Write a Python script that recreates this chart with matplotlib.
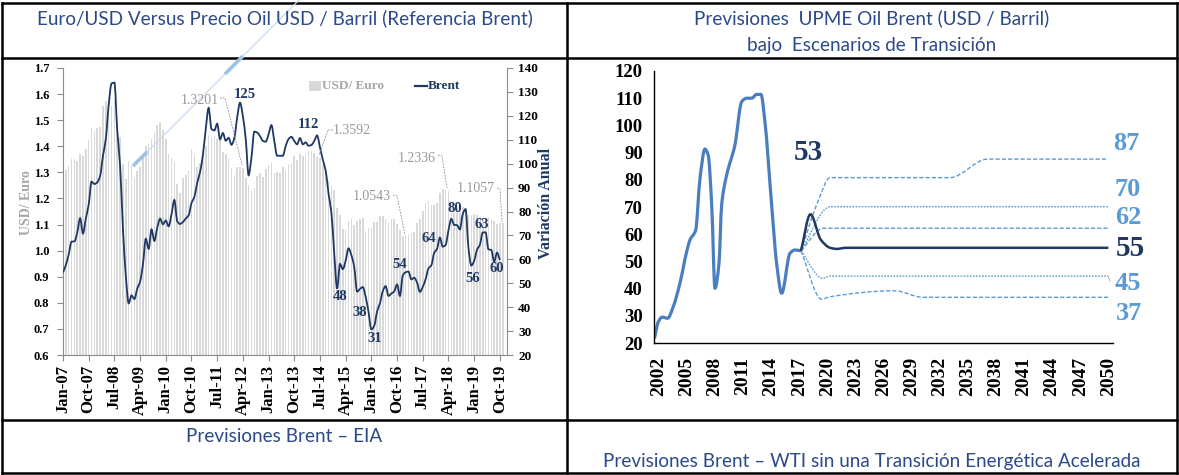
import matplotlib
matplotlib.use('Agg')
import matplotlib.pyplot as plt
from matplotlib.patches import Rectangle, PathPatch
from matplotlib.path import Path
import numpy as np

W, H = 1179, 475
NAVY = '#1f3864'
LBLUE = '#5b9bd5'
HIST = '#4a7ebf'
TITLE = '#2c4a87'
GRAYTXT = '#a6a6a6'
BARC = '#d9d9d9'
SERIF = ['Liberation Serif', 'DejaVu Serif']
SANS = ['Lato', 'DejaVu Sans']
plt.rcParams['font.family'] = SERIF

# ---------------- data: left chart ----------------
month_tick_labels = ['Jan-07', 'Oct-07', 'Jul-08', 'Apr-09', 'Jan-10', 'Oct-10',
                     'Jul-11', 'Apr-12', 'Jan-13', 'Oct-13', 'Jul-14', 'Apr-15',
                     'Jan-16', 'Oct-16', 'Jul-17', 'Apr-18', 'Jan-19', 'Oct-19']
usd_euro = [
    1.2999, 1.3074, 1.3242, 1.3516, 1.3511, 1.3419, 1.3716, 1.3622, 1.3896, 1.4227, 1.4684, 1.4570,
    1.4718, 1.4748, 1.5527, 1.5751, 1.5557, 1.5553, 1.5770, 1.4975, 1.4370, 1.3322, 1.2732, 1.3449,
    1.3239, 1.2785, 1.3050, 1.3190, 1.3650, 1.4016, 1.4088, 1.4268, 1.4562, 1.4816, 1.4914, 1.4614,
    1.4272, 1.3686, 1.3569, 1.3406, 1.2565, 1.2209, 1.2770, 1.2894, 1.3067, 1.3898, 1.3661, 1.3220,
    1.3360, 1.3649, 1.3999, 1.4442, 1.4349, 1.4388, 1.4264, 1.4343, 1.3770, 1.3706, 1.3556, 1.3179,
    1.2905, 1.3224, 1.3201, 1.3162, 1.2789, 1.2526, 1.2288, 1.2400, 1.2856, 1.2974, 1.2828, 1.3119,
    1.3288, 1.3359, 1.2964, 1.3026, 1.2982, 1.3189, 1.3080, 1.3310, 1.3348, 1.3635, 1.3493, 1.3704,
    1.3610, 1.3659, 1.3823, 1.3813, 1.3732, 1.3592, 1.3539, 1.3316, 1.2901, 1.2673, 1.2472, 1.2331,
    1.1621, 1.1350, 1.0838, 1.0779, 1.1150, 1.1213, 1.0996, 1.1139, 1.1221, 1.1235, 1.0736, 1.0877,
    1.0860, 1.1093, 1.1100, 1.1339, 1.1311, 1.1229, 1.1069, 1.1212, 1.1212, 1.1026, 1.0799, 1.0543,
    1.0614, 1.0643, 1.0685, 1.0723, 1.1058, 1.1229, 1.1511, 1.1807, 1.1915, 1.1756, 1.1738, 1.1836,
    1.2200, 1.2348, 1.2336, 1.2276, 1.1812, 1.1678, 1.1686, 1.1549, 1.1659, 1.1484, 1.1367, 1.1384,
    1.1416, 1.1351, 1.1302, 1.1238, 1.1185, 1.1293, 1.1218, 1.1126, 1.1004, 1.1053, 1.1057]
brent = [
    54.5, 57.6, 62.1, 67.4, 67.5, 71.3, 77.2, 70.8, 77.1, 82.9, 92.5, 91.5,
    92.2, 94.9, 103.3, 110.4, 124.6, 133.5, 133.9, 113.9, 99.1, 72.8, 53.2, 41.6,
    44.9, 43.4, 47.7, 50.7, 57.9, 68.6, 64.4, 72.5, 67.7, 73.2, 77.0, 74.7,
    76.2, 73.8, 78.8, 84.8, 75.9, 74.8, 75.6, 77.1, 78.4, 83.5, 86.1, 92.0,
    96.5, 103.7, 114.6, 123.3, 114.5, 113.9, 116.7, 110.2, 112.8, 109.6, 110.8, 107.9,
    110.7, 119.3, 125.5, 119.8, 110.3, 95.2, 102.6, 113.4, 113.0, 111.5, 109.5, 109.2,
    112.3, 116.1, 109.5, 103.3, 103.3, 103.3, 107.4, 110.3, 111.2, 109.5, 108.1, 110.7,
    108.1, 108.9, 107.5, 107.8, 109.5, 111.8, 106.8, 101.6, 97.1, 87.4, 79.4, 62.3,
    47.8, 58.1, 55.9, 59.5, 64.6, 61.7, 56.8, 46.5, 47.6, 48.4, 44.3, 38.0,
    30.7, 32.2, 38.2, 41.6, 46.7, 48.8, 44.7, 45.7, 46.6, 49.5, 44.7, 53.3,
    54.6, 54.9, 51.6, 52.3, 50.3, 46.4, 48.5, 51.7, 56.2, 57.5, 62.7, 64.4,
    69.1, 65.3, 66.0, 72.1, 76.9, 74.4, 74.3, 72.5, 78.9, 81.0, 64.8, 57.4,
    59.4, 64.0, 66.1, 71.2, 71.3, 64.2, 63.9, 59.0, 62.8, 59.7]
usd_callouts = ['1.3201', '1.3592', '1.0543', '1.2336', '1.1057']
brent_callouts = ['125', '112', '48', '38', '31', '54', '64', '80', '63', '56', '60']

# ---------------- data: right chart ----------------
year_ticks = list(range(2002, 2051, 3))
hist_years = [2001.55, 2001.96, 2002.38, 2002.96, 2003.56, 2004.27, 2004.99, 2005.34, 2005.95,
              2006.41, 2006.94, 2007.29, 2007.66, 2008.01, 2008.44, 2008.72, 2009.26, 2010.14,
              2010.86, 2011.39, 2011.93, 2012.46, 2012.92, 2013.34, 2014.06, 2014.59, 2015.13,
              2016.02, 2016.55, 2017.19]
hist_vals = [21.7, 27.8, 29.5, 29.1, 33.4, 42.0, 53.6, 57.9, 61.5,
             80.5, 91.3, 89.0, 70.7, 40.1, 49.4, 70.7, 81.8, 92.8,
             108.7, 110.0, 110.0, 111.4, 111.4, 101.4, 70.7, 49.3, 38.3,
             53.0, 54.2, 53.9]
base_years = [2017.19, 2018.2, 2019.3, 2020.3, 2021.0, 2022.0, 2050.0]
base_vals = [53.9, 67.3, 58.0, 55.0, 54.6, 55.0, 55.0]
s87_years = [2017.19, 2019.0, 2020.3, 2033.1, 2037.1, 2050.0]
s87_vals = [53.9, 72.0, 80.8, 80.8, 87.6, 87.6]
s70_years = [2017.19, 2020.3, 2050.0]
s70_vals = [53.9, 70.1, 70.1]
s62_years = [2017.19, 2019.6, 2050.0]
s62_vals = [53.9, 62.2, 62.2]
s45_years = [2017.19, 2019.5, 2020.3, 2050.0]
s45_vals = [53.9, 43.8, 44.6, 44.6]
s37_years = [2017.19, 2019.4, 2020.3, 2027.2, 2030.2, 2050.0]
s37_vals = [53.9, 36.1, 37.0, 39.2, 36.8, 36.8]
right_labels = ['53', '87', '70', '62', '55', '45', '37']

titles = ['Euro/USD Versus Precio Oil USD / Barril (Referencia Brent)',
          'Previsiones  UPME Oil Brent (USD / Barril)',
          'bajo  Escenarios de Transición',
          'Previsiones Brent – EIA',
          'Previsiones Brent – WTI sin una Transición Energética Acelerada']


def smooth_line(axis, xs, ys, **kw):
    """Smoothed line through the points (monotone cubic Bezier), like Excel's smoothed lines."""
    x = np.asarray(xs, float)
    y = np.asarray(ys, float)
    h = np.diff(x)
    d = np.diff(y) / h
    n = len(x)
    m = np.zeros(n)
    m[0], m[-1] = d[0], d[-1]
    for i in range(1, n - 1):
        if d[i - 1] * d[i] <= 0:
            m[i] = 0.0
        else:
            w1 = 2 * h[i] + h[i - 1]
            w2 = h[i] + 2 * h[i - 1]
            m[i] = (w1 + w2) / (w1 / d[i - 1] + w2 / d[i])
    verts = [(x[0], y[0])]
    codes = [Path.MOVETO]
    for i in range(n - 1):
        verts += [(x[i] + h[i] / 3, y[i] + m[i] * h[i] / 3),
                  (x[i + 1] - h[i] / 3, y[i + 1] - m[i + 1] * h[i] / 3),
                  (x[i + 1], y[i + 1])]
        codes += [Path.CURVE4] * 3
    axis.add_patch(PathPatch(Path(verts, codes), fill=False, **kw))


# ---------------- figure ----------------
fig = plt.figure(figsize=(W / 100, H / 100), dpi=100)


def rect(x0, y0, x1, y1):
    return [x0 / W, 1 - y1 / H, (x1 - x0) / W, (y1 - y0) / H]


# ---- left chart ----
ax = fig.add_axes(rect(63, 68, 507, 355))
ax.patch.set_alpha(0)
idx = np.arange(len(usd_euro))
ax.bar(idx, np.array(usd_euro) - 0.6, bottom=0.6, width=0.55, color=BARC, linewidth=0)
ax.set_xlim(0, 155.5)
ax.set_ylim(0.6, 1.7)
yt = np.round(np.arange(0.6, 1.71, 0.1), 1)
ax.set_yticks(yt)
ax.set_yticklabels([f'{v:.1f}' for v in yt], fontweight='bold', fontsize=9)
ax.set_xticks(np.arange(0, 154, 9))
ax.set_xticklabels(month_tick_labels, rotation=90, fontweight='bold', fontsize=12)
for s in ['top', 'right']:
    ax.spines[s].set_visible(False)
for s in ['left', 'bottom']:
    ax.spines[s].set_color('#8c8c8c')
ax.tick_params(axis='both', direction='out', length=4, color='#8c8c8c', pad=3)
ax.tick_params(axis='y', pad=6)

ax2 = ax.twinx()
smooth_line(ax2, np.arange(len(brent)), brent, edgecolor=NAVY, lw=1.3)
ax2.set_ylim(20, 140)
ax2.set_yticks(range(20, 141, 10))
ax2.set_yticklabels([str(v) for v in range(20, 141, 10)], fontweight='bold', fontsize=9.5)
for s in ['top', 'left', 'bottom']:
    ax2.spines[s].set_visible(False)
ax2.spines['right'].set_color('#8c8c8c')
ax2.tick_params(axis='y', direction='out', length=4, color='#8c8c8c', pad=4)
ax2.set_xlim(0, 155.5)

# ---- right chart ----
ax3 = fig.add_axes(rect(654, 71, 1113, 343))
ax3.patch.set_alpha(0)
smooth_line(ax3, hist_years, hist_vals, edgecolor=HIST, lw=2.3, joinstyle='round')
smooth_line(ax3, s87_years, s87_vals, edgecolor=LBLUE, lw=1.0, linestyle=(0, (3, 1.5)))
smooth_line(ax3, s70_years, s70_vals, edgecolor=LBLUE, lw=1.0, linestyle=(0, (1.2, 1.0)))
smooth_line(ax3, s62_years, s62_vals, edgecolor=LBLUE, lw=1.0, linestyle=(0, (3, 1.5)))
smooth_line(ax3, s45_years, s45_vals, edgecolor=LBLUE, lw=1.0, linestyle=(0, (1.2, 1.0)))
smooth_line(ax3, s37_years, s37_vals, edgecolor=LBLUE, lw=1.0, linestyle=(0, (3, 1.5)))
smooth_line(ax3, base_years, base_vals, edgecolor=NAVY, lw=1.8)
ax3.set_xlim(2001.5, 2050.5)
ax3.set_ylim(20, 120)
ax3.set_yticks(range(20, 121, 10))
ax3.set_yticklabels([str(v) for v in range(20, 121, 10)], fontweight='bold', fontsize=13.5)
ax3.set_xticks(year_ticks)
ax3.set_xticklabels([str(y) for y in year_ticks], rotation=90, fontweight='bold', fontsize=14)
ax3.tick_params(axis='both', length=0)
ax3.tick_params(axis='x', pad=10)
ax3.tick_params(axis='y', pad=8)
for s in ['top', 'right']:
    ax3.spines[s].set_visible(False)
for s in ['left', 'bottom']:
    ax3.spines[s].set_color('black')
    ax3.spines[s].set_linewidth(1.0)

# ---- overlay: borders, titles, labels ----
ov = fig.add_axes([0, 0, 1, 1], zorder=10)
ov.set_xlim(0, W)
ov.set_ylim(H, 0)
ov.axis('off')

for y in [3, 58, 420, 473]:
    ov.plot([2, 1177], [y, y], color='black', lw=1.8, solid_capstyle='projecting')
for x in [2, 567, 1177]:
    ov.plot([x, x], [3, 473], color='black', lw=1.8, solid_capstyle='projecting')

# stray light-blue stroke
ov.plot([133, 299], [166, 0], color='#c5dcf0', lw=0.9)
ov.plot([133, 147], [166, 152], color='#9dc3e6', lw=2.6, solid_capstyle='butt')
ov.plot([225, 243], [74, 56], color='#9dc3e6', lw=2.6, solid_capstyle='butt')

TS = 13.6
ov.text(284.5, 18, titles[0], ha='center', va='center', fontsize=TS, family=SANS, color=TITLE)
ov.text(872, 18, titles[1], ha='center', va='center', fontsize=TS, family=SANS, color=TITLE)
ov.text(872, 45, titles[2], ha='center', va='center', fontsize=TS, family=SANS, color=TITLE)
ov.text(284.5, 436, titles[3], ha='center', va='center', fontsize=TS, family=SANS, color=TITLE)
ov.text(872, 461, titles[4], ha='center', va='center', fontsize=TS, family=SANS, color=TITLE)

# left chart axis titles and legend
ov.text(26, 203, 'USD/ Euro', rotation=90, ha='center', va='center', fontsize=10,
        fontweight='bold', color=GRAYTXT)
ov.text(546, 203, 'Variación Anual', rotation=90, ha='center', va='center', fontsize=11.5,
        fontweight='bold', color=NAVY)
ov.add_patch(Rectangle((309, 81), 12, 10, color=BARC, lw=0))
ov.text(322, 86, 'USD/ Euro', ha='left', va='center', fontsize=9.5, fontweight='bold', color=GRAYTXT)
ov.plot([415, 427], [86, 86], color=NAVY, lw=1.6)
ov.text(428, 86, 'Brent', ha='left', va='center', fontsize=9.5, fontweight='bold', color=NAVY)

# gray call-outs with leader lines
usd_pos = [(200, 101), (352, 130), (372, 197), (417, 158), (476, 189)]
usd_leaders = [[(220, 98), (225, 98), (242, 165)],
               [(333, 130), (328, 130), (319, 155)],
               [(393, 195), (397, 196), (405, 235)],
               [(438, 155), (442, 156), (447, 188)],
               [(497, 188), (500, 189), (502, 222)]]
for t, (x, y), ld in zip(usd_callouts, usd_pos, usd_leaders):
    ov.text(x, y, t, ha='center', va='center', fontsize=10, color='#999999')
    xs, ys = zip(*ld)
    ov.plot(xs, ys, color='#8c8c8c', lw=0.6, dashes=(2, 1.5))

brent_pos = [(245, 95), (308, 124), (340, 297), (360, 313), (375, 338), (400, 265),
             (429, 239), (455, 208), (482, 224), (473, 279), (497, 268)]
for t, (x, y) in zip(brent_callouts, brent_pos):
    ov.text(x, y, t, ha='center', va='center', fontsize=10.5, fontweight='bold', color=NAVY)

# right chart end labels
rl_pos = [(808, 153), (1126, 144), (1128, 190), (1128, 217), (1130, 249), (1128, 284), (1129, 314)]
rl_col = [NAVY, LBLUE, LBLUE, LBLUE, NAVY, LBLUE, LBLUE]
rl_size = [21, 19, 19, 19, 21, 19, 19]
for t, (x, y), c, s in zip(right_labels, rl_pos, rl_col, rl_size):
    ov.text(x, y, t, ha='center', va='center', fontsize=s, fontweight='bold', color=c)
ov.plot([1108, 1110], [276, 281], color='#a6a6a6', lw=0.6)

fig.savefig('out.png', dpi=100)
